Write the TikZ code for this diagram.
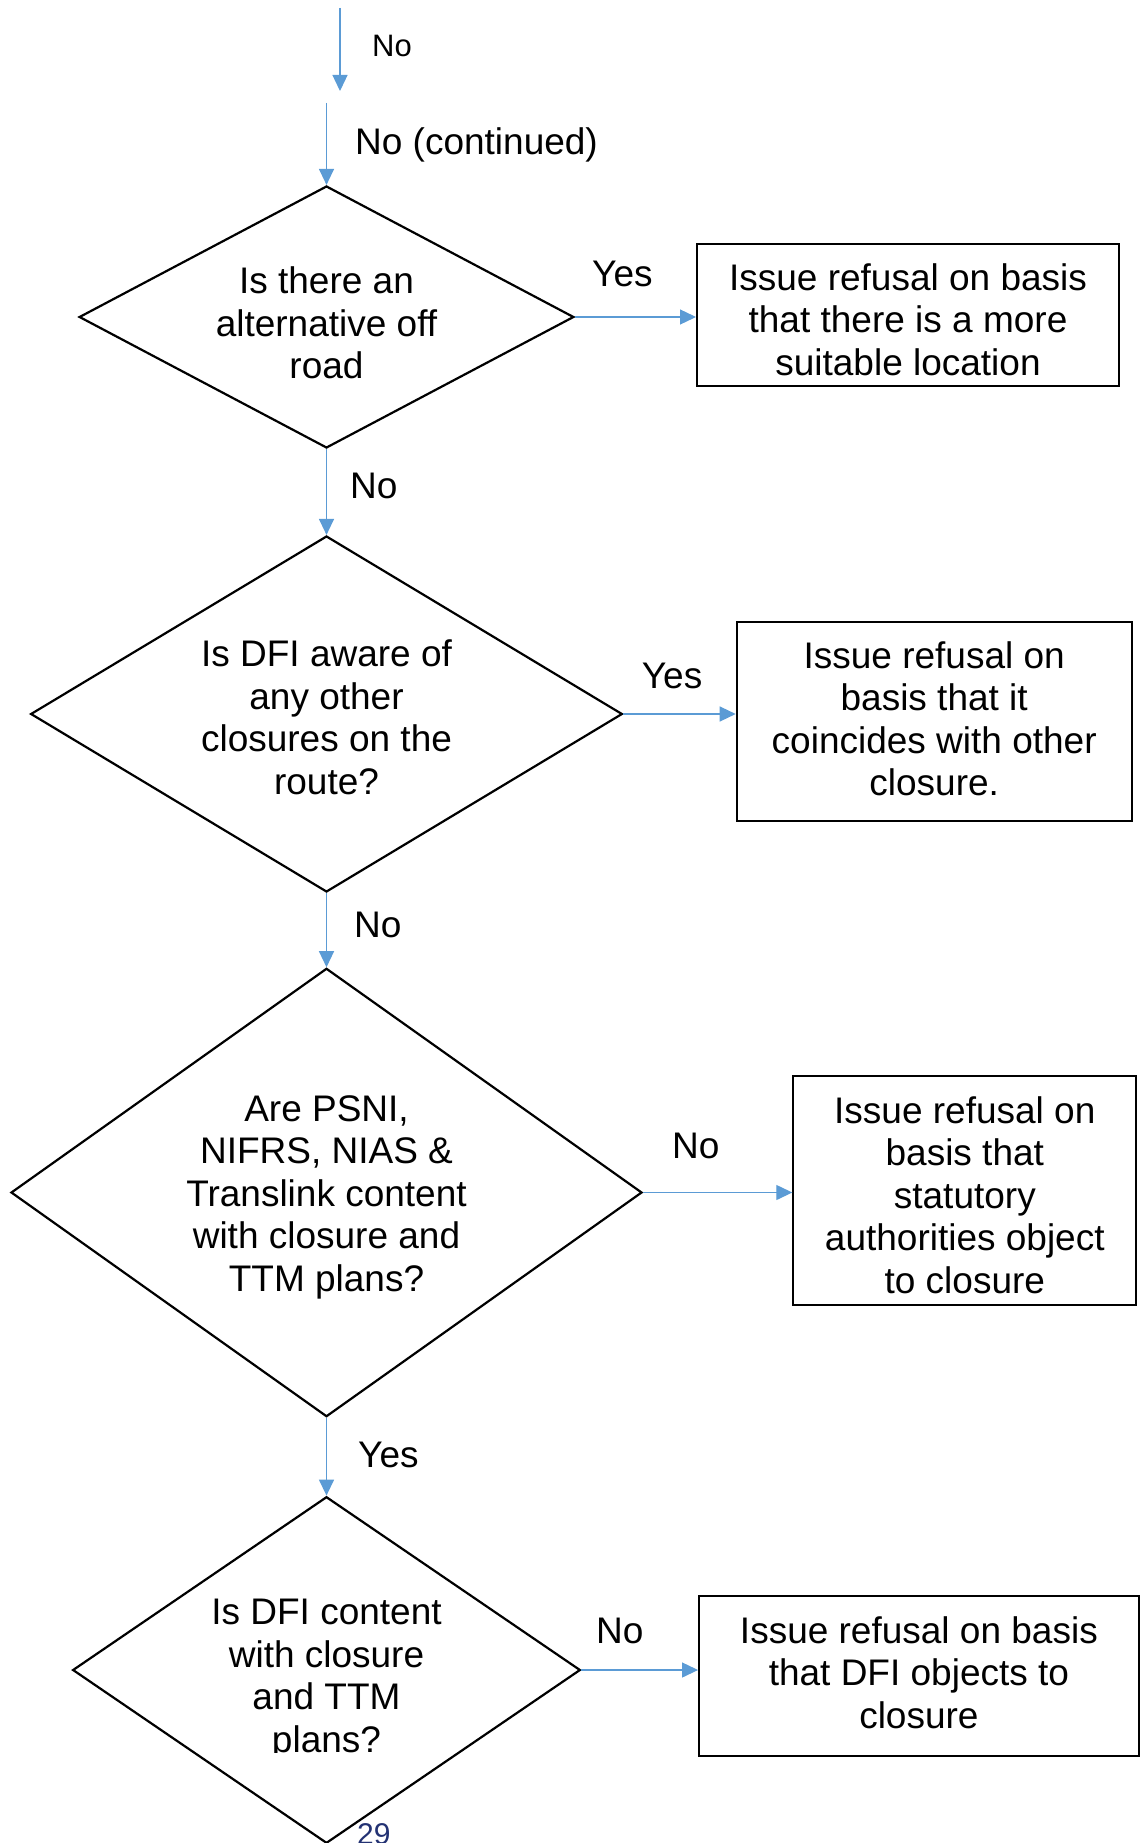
\documentclass[tikz,border=0pt]{standalone}
\usepackage{fontspec}
\setmainfont{Liberation Sans}
\usetikzlibrary{shapes.geometric,arrows.meta}
\definecolor{flowblue}{RGB}{91,155,213}
\definecolor{pagenavy}{RGB}{35,50,115}

\begin{document}
\begin{tikzpicture}[x=1pt, y=-1pt,
                    txt/.style={font=\fontsize{37}{42.5}\selectfont},
                    decision/.style={draw, diamond, line width=2.2pt, inner sep=0pt},
                    outcome/.style={draw, rectangle, line width=2pt, inner sep=0pt},
                    boxtext/.style={inner sep=0pt, align=center, txt},
                    flow/.style={color=flowblue, line width=1.3pt, -{Triangle[length=16pt, width=15pt]}},
                    lbl/.style={inner sep=0pt, anchor=base west, txt}]
                    \useasboundingbox (0,0) rectangle (1141,1843);

                    \node[decision, minimum width=494.7pt, minimum height=262pt] (d1) at (326.5,317) {};
                    \node[decision, minimum width=591.7pt, minimum height=356pt] (d2) at (326.5,714) {};
                    \node[decision, minimum width=631pt, minimum height=448.4pt] (d3) at (326.5,1192.5) {};
                    \node[decision, minimum width=507.7pt, minimum height=346.6pt] (d4) at (326.5,1670) {};

                    \node[boxtext] (q1) at (326.5,322.9) {Is there an\\alternative off\\road};
                    \node[boxtext] (q2) at (326.5,717.5) {Is DFI aware of\\any other\\closures on the\\route?};
                    \node[boxtext] (q3) at (326.5,1197.2) {Are PSNI,\\NIFRS, NIAS \&\\Translink content\\with closure and\\TTM plans?};
                    \begin{scope}
                    \clip (0,0) rectangle (1141,1752);
                    \node[boxtext] (q4) at (326.5,1679.4) {Is DFI content\\with closure\\and TTM\\plans?};
                    \end{scope}

                    \node[outcome, minimum width=422pt, minimum height=141.5pt] (b1) at (908,314.75) {};
                    \node[outcome, minimum width=395pt, minimum height=199pt] (b2) at (934.2,721.2) {};
                    \node[outcome, minimum width=343pt, minimum height=229pt] (b3) at (964.8,1190.5) {};
                    \node[outcome, minimum width=439.7pt, minimum height=160pt] (b4) at (918.9,1676) {};

                    \node[boxtext] (r1) at (908,319.5) {Issue refusal on basis\\that there is a more\\suitable location};
                    \node[boxtext] (r2) at (934.2,718.8) {Issue refusal on\\basis that it\\coincides with other\\closure.};
                    \node[boxtext] (r3) at (964.8,1195.2) {Issue refusal on\\basis that\\statutory\\authorities object\\to closure};
                    \node[boxtext] (r4) at (918.9,1672.5) {Issue refusal on basis\\that DFI objects to\\closure};

                    \coordinate (s0) at (340,8);
                    \coordinate (e0) at (340,91);
                    \coordinate (s1) at (326.5,103);

                    \draw[flow] (s0) -- (e0);
                    \draw[flow] (s1) -- (d1.north);
                    \draw[flow] (d1.east) -- (b1.west |- d1.east);
                    \draw[flow] (d1.south) -- (d2.north);
                    \draw[flow] (d2.east) -- (b2.west |- d2.east);
                    \draw[flow] (d2.south) -- (d3.north);
                    \draw[flow] (d3.east) -- (b3.west |- d3.east);
                    \draw[flow] (d3.south) -- (d4.north);
                    \draw[flow] (d4.east) -- (b4.west |- d4.east);

                    \node[lbl, font=\fontsize{31}{36}\selectfont] (ltop) at (372,57) {No};
                    \node[lbl] (lcont) at (355,155) {No (continued)};
                    \node[lbl] (lyes1) at (592,287) {Yes};
                    \node[lbl] (lno1) at (350,498) {No};
                    \node[lbl] (lyes2) at (641.7,688) {Yes};
                    \node[lbl] (lno2) at (354,937) {No};
                    \node[lbl] (lno3) at (672,1158) {No};
                    \node[lbl] (lyes3) at (358,1467) {Yes};
                    \node[lbl] (lno4) at (596,1643) {No};
                    \node[lbl, font=\fontsize{30}{36}\selectfont, text=pagenavy] (pagenum) at (357,1844.5) {29};
                \end{tikzpicture}
\end{document}
